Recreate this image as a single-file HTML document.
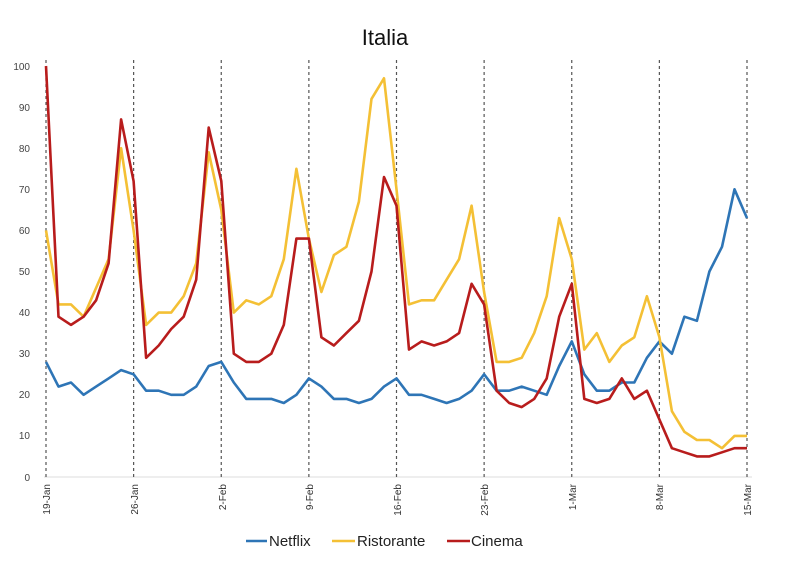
<!DOCTYPE html>
<html><head><meta charset="utf-8"><style>
body{margin:0;background:#fff;}
svg{display:block;font-family:"Liberation Sans",sans-serif;}
</style></head><body>
<svg id="s" width="800" height="583" viewBox="0 0 800 583" xmlns="http://www.w3.org/2000/svg">
<rect width="800" height="583" fill="#fff"/>
<text x="385" y="45" font-size="22" text-anchor="middle" fill="#111">Italia</text>
<g font-size="10" fill="#444" text-anchor="end">
<text x="30" y="70">100</text><text x="30" y="111">90</text><text x="30" y="152">80</text>
<text x="30" y="193">70</text><text x="30" y="234">60</text><text x="30" y="275">50</text>
<text x="30" y="316">40</text><text x="30" y="357">30</text><text x="30" y="398">20</text>
<text x="30" y="439">10</text><text x="30" y="481">0</text>
</g>
<line x1="44" y1="477" x2="752" y2="477" stroke="#ddd" stroke-width="1"/>
<g id="vl" stroke="#555" stroke-width="1.2" stroke-dasharray="3,3"></g>
<g font-size="10" fill="#333" text-anchor="end">
<text transform="translate(50,484) rotate(-90)">19-Jan</text>
<text transform="translate(138,484) rotate(-90)">26-Jan</text>
<text transform="translate(226,484) rotate(-90)">2-Feb</text>
<text transform="translate(313,484) rotate(-90)">9-Feb</text>
<text transform="translate(401,484) rotate(-90)">16-Feb</text>
<text transform="translate(488,484) rotate(-90)">23-Feb</text>
<text transform="translate(576,484) rotate(-90)">1-Mar</text>
<text transform="translate(663,484) rotate(-90)">8-Mar</text>
<text transform="translate(751,484) rotate(-90)">15-Mar</text>
</g>
<g id="ln" fill="none" stroke-width="2.6" stroke-linejoin="round"></g>
<g font-size="15" fill="#222">
<line x1="246" y1="541" x2="267" y2="541" stroke="#2e75b6" stroke-width="2.5"/>
<text x="269" y="546">Netflix</text>
<line x1="332" y1="541" x2="355" y2="541" stroke="#f4c035" stroke-width="2.5"/>
<text x="357" y="546">Ristorante</text>
<line x1="447" y1="541" x2="470" y2="541" stroke="#b81c1c" stroke-width="2.5"/>
<text x="471" y="546">Cinema</text>
</g>
</svg>
<script>
var x0=46,dx=(747-46)/56,y0=477,k=4.11,NS="http://www.w3.org/2000/svg";
var vl=document.getElementById('vl');
for(var i=0;i<=8;i++){var x=x0+i*7*dx;var l=document.createElementNS(NS,'line');l.setAttribute('x1',x);l.setAttribute('x2',x);l.setAttribute('y1',60);l.setAttribute('y2',477);vl.appendChild(l);}
var N=[28,22,23,20,22,24,26,25,21,21,20,20,22,27,28,23,19,19,19,18,20,24,22,19,19,18,19,22,24,20,20,19,18,19,21,25,21,21,22,21,20,27,33,25,21,21,23,23,29,33,30,39,38,50,56,70,63];
var R=[60,42,42,39,46,53,80,60,37,40,40,44,52,79,65,40,43,42,44,53,75,58,45,54,56,67,92,97,70,42,43,43,48,53,66,45,28,28,29,35,44,63,53,31,35,28,32,34,44,34,16,11,9,9,7,10,10];
var C=[100,39,37,39,43,52,87,72,29,32,36,39,48,85,72,30,28,28,30,37,58,58,34,32,35,38,50,73,66,31,33,32,33,35,47,42,21,18,17,19,24,39,47,19,18,19,24,19,21,14,7,6,5,5,6,7,7];
var ln=document.getElementById('ln');
[[N,'#2e75b6'],[R,'#f4c035'],[C,'#b81c1c']].forEach(function(s){
var p=s[0].map(function(v,i){return (x0+i*dx).toFixed(1)+','+(y0-v*k).toFixed(1);}).join(' ');
var pl=document.createElementNS(NS,'polyline');pl.setAttribute('points',p);pl.setAttribute('stroke',s[1]);ln.appendChild(pl);});
</script>
</body></html>
